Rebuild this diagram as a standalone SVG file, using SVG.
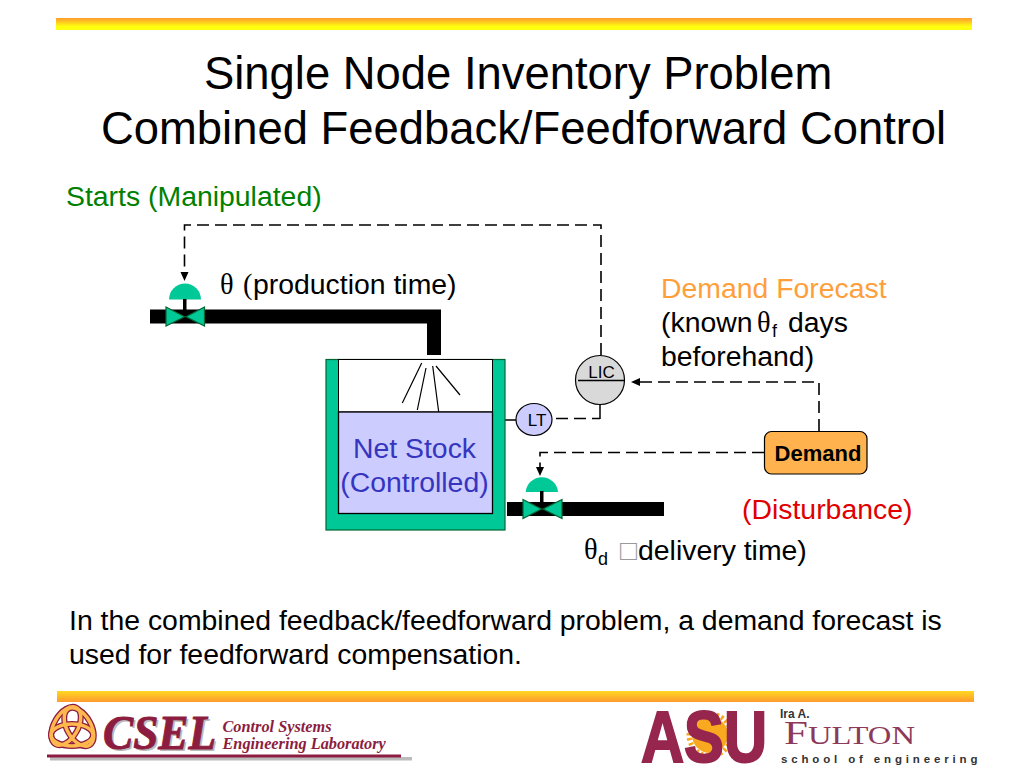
<svg xmlns="http://www.w3.org/2000/svg" width="1024" height="768" viewBox="0 0 1024 768">
<style>
text{font-family:"Liberation Sans",Arial,sans-serif;fill:#000}
.t{font-size:45.400px}
.b{font-size:28.400px}
.s{font-family:"Liberation Serif","Times New Roman",serif}
.g{fill:#00c896;stroke:#063;stroke-width:1.200}
.pipe{fill:#000}
.dash{fill:none;stroke:#000;stroke-width:1.600;stroke-dasharray:12 6}
.solid{fill:none;stroke:#000;stroke-width:1.500}
.lb{fill:#3535c0;font-size:28.400px;text-anchor:middle}
.logo{font-family:"Liberation Serif",serif;fill:#8c1d40}
</style>
<defs>
<linearGradient id="top" x1="0" y1="0" x2="0" y2="1"><stop offset="0" stop-color="#ff9a2e"/><stop offset=".7" stop-color="#ffff10"/><stop offset="1" stop-color="#ffff10"/></linearGradient>
<linearGradient id="bot" x1="0" y1="0" x2="0" y2="1"><stop offset="0" stop-color="#ffd820"/><stop offset="1" stop-color="#ff9a2e"/></linearGradient>
</defs>
<rect width="1024" height="768" fill="#fff"/>
<rect x="56" y="18" width="916" height="12" fill="url(#top)"/>
<rect x="57" y="691" width="917" height="11" fill="url(#bot)"/>

<text class="t" x="204" y="89">Single Node Inventory Problem</text>
<text class="t" x="101" y="144">Combined Feedback/Feedforward Control</text>
<text class="b" x="66" y="206" style="fill:#008000">Starts (Manipulated)</text>

<g id="connectors">
<path class="dash" d="M601 355V225H184.500V272"/>
<path d="M180.500 272h8l-4 9z" fill="#000"/>
<path class="dash" d="M556 418.500H600"/>
<path class="solid" d="M600 405V419"/>
<path class="solid" d="M501 420H516"/>
<path class="dash" d="M819 431V382H640"/>
<path d="M640 378v8l-9-4z" fill="#000"/>
<path class="dash" d="M764 452.500H540V467"/>
<path d="M536 467h8l-4 9z" fill="#000"/>
</g>

<g id="tank">
<rect x="326" y="359.500" width="179" height="170.500" class="g"/>
<rect x="338.500" y="359.500" width="154" height="52.500" fill="#fff" stroke="#000" stroke-width="1"/>
<rect x="338.500" y="412" width="154" height="101.500" fill="#ccccff" stroke="#000" stroke-width="1.300"/>
<path class="solid" style="stroke-width:1.200" d="M421.700 363L402.300 403M426 368L417.300 410M432.700 366L438.700 412M436 366L460 395"/>
<text class="lb" x="414.500" y="458">Net Stock</text>
<text class="lb" x="414.500" y="492">(Controlled)</text>
</g>

<g id="pipe-in">
<path class="pipe" d="M150 309.500H441V355H427V323.500H150Z"/>
</g>
<g id="valve-in">
<path d="M169 299.500A16 16 0 0 1 201 299.500Z" fill="#00c896"/>
<rect x="183" y="299" width="3.500" height="18" fill="#000"/>
<path class="g" d="M166 307L184.500 316.700L166 326ZM204.500 307L186 316.700L204.500 326Z"/>
</g>

<g id="pipe-out"><rect class="pipe" x="507" y="502" width="157" height="14"/></g>
<g id="valve-out">
<path d="M525.700 492A16.200 16 0 0 1 558 492Z" fill="#00c896"/>
<rect x="540" y="491" width="3.500" height="18" fill="#000"/>
<path class="g" d="M523 499.500L541.500 509L523 518.500ZM562 499.500L543 509L562 518.500Z"/>
</g>

<g id="lt">
<ellipse cx="534" cy="419.500" rx="18" ry="16" fill="#ccccff" stroke="#000" stroke-width="1.200"/>
<text x="537" y="426" font-size="17" text-anchor="middle">LT</text>
</g>
<g id="lic">
<circle cx="600" cy="380" r="24.500" fill="#d9d9d9" stroke="#000" stroke-width="1.200"/>
<path class="solid" d="M578 380.500H625"/>
<text x="601.500" y="378" font-size="17" text-anchor="middle">LIC</text>
</g>
<g id="demand">
<rect x="764.500" y="431.500" width="102.500" height="42.500" rx="7" fill="#ffb24d" stroke="#000" stroke-width="1.200"/>
<text x="818" y="461" font-size="22" font-weight="700" text-anchor="middle">Demand</text>
</g>

<text class="b s" x="220" y="294">θ</text>
<text class="b s" x="243" y="294">(</text>
<text class="b" x="253" y="294">production time)</text>
<text class="b" x="661" y="298" style="fill:#ff9f3c">Demand Forecast</text>
<text class="b" x="661" y="332">(known</text>
<text class="b s" x="757" y="332">θ</text>
<text x="772" y="337" font-size="18">f</text>
<text class="b" x="788" y="332">days</text>
<text class="b" x="661" y="366">beforehand)</text>
<text class="b" x="742" y="519" style="fill:#e00000">(Disturbance)</text>
<text class="b s" x="584" y="559">θ</text>
<text x="598" y="565" font-size="18">d</text>
<text x="620" y="560" font-size="28" style="fill:#999">□</text>
<text class="b" x="638" y="560">delivery time)</text>
<text class="b" x="69" y="630">In the combined feedback/feedforward problem, a demand forecast is</text>
<text class="b" x="69" y="664">used for feedforward compensation.</text>

<g id="csel-logo">
<g fill="none" stroke="#8c1d40" stroke-width="6"><ellipse cx="66" cy="726" rx="21" ry="12" transform="rotate(-60 66 726)"/><ellipse cx="79" cy="727" rx="21" ry="12" transform="rotate(60 79 727)"/><ellipse cx="72" cy="735" rx="21" ry="11"/></g>
<g fill="none" stroke="#ffb84d" stroke-width="3.500"><ellipse cx="66" cy="726" rx="21" ry="12" transform="rotate(-60 66 726)"/><ellipse cx="79" cy="727" rx="21" ry="12" transform="rotate(60 79 727)"/><ellipse cx="72" cy="735" rx="21" ry="11"/></g>
<text x="105" y="751" font-size="49" font-weight="700" font-style="italic" textLength="113" lengthAdjust="spacingAndGlyphs" style="font-family:'Liberation Serif',serif;fill:#bbb">CSEL</text>
<text class="logo" x="103" y="749" font-size="49" font-weight="700" font-style="italic" textLength="113" lengthAdjust="spacingAndGlyphs" stroke="#8c1d40" stroke-width="1">CSEL</text>
<text class="logo" x="222.500" y="732" font-size="16.300" font-weight="700" font-style="italic">Control Systems</text>
<text class="logo" x="222.500" y="749" font-size="16.300" font-weight="700" font-style="italic">Engineering Laboratory</text>
<rect x="50" y="757" width="362" height="3.500" fill="#bbb"/>
<rect x="47" y="754.500" width="354" height="3" fill="#8c1d40"/>
</g>

<g id="asu-logo">
<circle cx="710" cy="735" r="18" fill="#f9a91f"/>
<circle cx="710" cy="735" r="21" fill="none" stroke="#f9a91f" stroke-width="5" stroke-dasharray="2.500 2.500"/>
<text x="641" y="762" font-size="72" font-weight="700" textLength="126" lengthAdjust="spacingAndGlyphs" stroke="#96264e" stroke-width="2" style="fill:#96264e">ASU</text>
<text x="780" y="718" font-size="12" font-weight="700" style="fill:#333">Ira A.</text>
<text x="784" y="744" textLength="131" lengthAdjust="spacingAndGlyphs" style="font-family:'Liberation Serif',serif;fill:#8d3a5a" font-size="25"><tspan font-size="33">F</tspan>ULTON</text>
<text x="781" y="763" font-size="11.500" font-weight="700" letter-spacing="3.850" style="fill:#333">school of engineering</text>
</g>
</svg>
